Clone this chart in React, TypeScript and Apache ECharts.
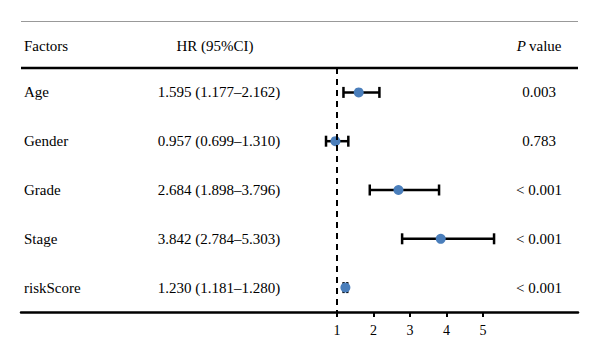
import React, { useEffect, useRef } from "react";
import * as echarts from "echarts";

const factors = ["Age", "Gender", "Grade", "Stage", "riskScore"];
const hr = [1.595, 0.957, 2.684, 3.842, 1.23];
const ciLow = [1.177, 0.699, 1.898, 2.784, 1.181];
const ciHigh = [2.162, 1.31, 3.796, 5.303, 1.28];
const hrText = [
  "1.595 (1.177–2.162)",
  "0.957 (0.699–1.310)",
  "2.684 (1.898–3.796)",
  "3.842 (2.784–5.303)",
  "1.230 (1.181–1.280)",
];
const pText = ["0.003", "0.783", "< 0.001", "< 0.001", "< 0.001"];
const xTicks = [1, 2, 3, 4, 5];
const headers = ["Factors", "HR (95%CI)", "value"];

const FONT = "Liberation Serif";
const FS = 15;

const txt = (text: string, align: string, extra: any = {}) => ({
  text,
  fontFamily: FONT,
  fontSize: FS,
  fill: "#000",
  verticalAlign: "middle",
  align,
  ...extra,
});

export default function App() {
  const ref = useRef<HTMLDivElement>(null);
  useEffect(() => {
    const chart = echarts.init(ref.current!, undefined, { renderer: "svg" });
    const rows = factors.map((f, i) => [hr[i], i, ciLow[i], ciHigh[i]]);
    const option: any = {
      animation: false,
      grid: { left: 21, right: 22, top: 68, bottom: 49 },
      xAxis: {
        type: "value",
        min: -7.658,
        max: 7.603,
        splitLine: { show: false },
        axisLine: { show: true, onZero: false, lineStyle: { color: "#000", width: 2.5 } },
        axisTick: {
          show: true,
          customValues: xTicks,
          length: 5,
          lineStyle: { color: "#000", width: 2 },
        },
        axisLabel: {
          customValues: xTicks,
          color: "#000",
          fontFamily: FONT,
          fontSize: 14,
          margin: 11,
        },
      },
      yAxis: {
        type: "value",
        min: -0.5,
        max: 4.5,
        inverse: true,
        show: false,
      },
      graphic: [
        {
          type: "line",
          shape: { x1: 21, y1: 21.5, x2: 578, y2: 21.5 },
          style: { stroke: "#999", lineWidth: 1 },
        },
        {
          type: "line",
          shape: { x1: 21, y1: 68, x2: 578, y2: 68 },
          style: { stroke: "#000", lineWidth: 2.5 },
        },
        { type: "text", x: 24, y: 46, style: txt(headers[0], "left") },
        { type: "text", x: 215, y: 46, style: txt(headers[1], "center") },
        { type: "text", x: 526, y: 46, style: txt("P", "right", { fontStyle: "italic" }) },
        { type: "text", x: 529, y: 46, style: txt(headers[2], "left") },
      ],
      series: [
        {
          type: "custom",
          data: rows,
          z: 2,
          renderItem: (params: any, api: any) => {
            const y = api.value(1);
            const lo = api.coord([api.value(2), y]);
            const hi = api.coord([api.value(3), y]);
            const cap = 5.5;
            const ls = { stroke: "#000", lineWidth: 2.5 };
            const yy = lo[1];
            const i = params.dataIndex;
            return {
              type: "group",
              children: [
                { type: "line", shape: { x1: lo[0], y1: yy, x2: hi[0], y2: yy }, style: ls },
                { type: "line", shape: { x1: lo[0], y1: yy - cap, x2: lo[0], y2: yy + cap }, style: ls },
                { type: "line", shape: { x1: hi[0], y1: yy - cap, x2: hi[0], y2: yy + cap }, style: ls },
                { type: "text", x: 24, y: yy, style: txt(factors[i], "left") },
                { type: "text", x: 219, y: yy, style: txt(hrText[i], "center") },
                { type: "text", x: 539, y: yy, style: txt(pText[i], "center") },
              ],
            };
          },
        },
        {
          type: "scatter",
          data: rows.map((r) => [r[0], r[1]]),
          symbol: "circle",
          symbolSize: 10,
          z: 3,
          itemStyle: { color: "#4a7ebb", opacity: 1 },
          markLine: {
            silent: true,
            symbol: "none",
            label: { show: false },
            lineStyle: { color: "#000", type: [6, 5], width: 2 },
            data: [{ xAxis: 1 }],
          },
        },
      ],
    };
    chart.setOption(option);
    return () => chart.dispose();
  }, []);
  return <div ref={ref} style={{ width: 600, height: 361, position: "absolute", left: 0, top: 0 }} />;
}
